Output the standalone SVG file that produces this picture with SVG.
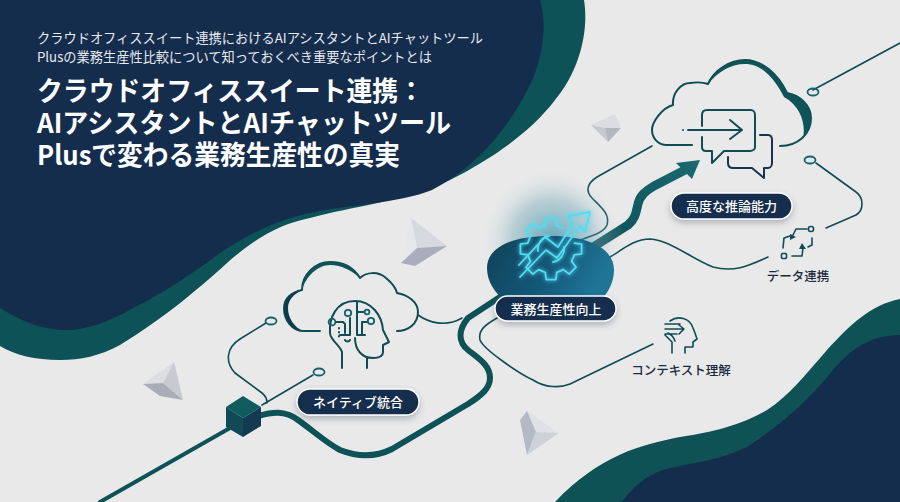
<svg xmlns="http://www.w3.org/2000/svg" width="900" height="502" viewBox="0 0 900 502">
<defs>
<style>
.jp{font-family:"Noto Sans CJK JP","Noto Sans",sans-serif}
.sub{font-size:13.5px;fill:#e6e9ee;font-weight:400}
.ttl{font-size:27px;fill:#fff;font-weight:700}
.pilltext{font-size:13px;fill:#fff;font-weight:500;text-anchor:middle}
.plain{font-size:12.5px;fill:#1a2a40;font-weight:500;text-anchor:middle}
.pill{fill:#152d4d;stroke:#fff;stroke-width:1.4;filter:url(#sh)}
.ln{fill:none;stroke:#0f4c55;stroke-width:1.6;stroke-linecap:round;stroke-linejoin:round}
.ln2{fill:none;stroke:#0f4c55;stroke-width:2;stroke-linecap:round;stroke-linejoin:round}
.nv{fill:none;stroke:#18324f;stroke-width:2;stroke-linecap:round;stroke-linejoin:round}
.rib{fill:none;stroke:#0d5257;stroke-linecap:round;stroke-linejoin:round}
.neon{fill:none;stroke:#52dcf2;stroke-width:1.8;stroke-linecap:round;stroke-linejoin:round}
.ring{fill:none;stroke:#14606c;stroke-width:1.8}
</style>
<filter id="sh" x="-20%" y="-40%" width="140%" height="200%"><feDropShadow dx="0" dy="3" stdDeviation="3" flood-color="#3a4a5a" flood-opacity="0.35"/></filter>
<filter id="glow" x="-30%" y="-30%" width="160%" height="160%"><feGaussianBlur stdDeviation="2" result="b"/><feMerge><feMergeNode in="b"/><feMergeNode in="SourceGraphic"/></feMerge></filter>
<radialGradient id="halo"><stop offset="0" stop-color="#2f8aa5" stop-opacity=".7"/><stop offset=".55" stop-color="#6aa3b3" stop-opacity=".4"/><stop offset="1" stop-color="#e9e9e9" stop-opacity="0"/></radialGradient>
<linearGradient id="blob" x1="0" y1="0" x2="1" y2="0.3"><stop offset="0" stop-color="#0f4258"/><stop offset=".6" stop-color="#14587a"/><stop offset="1" stop-color="#1f7596"/></linearGradient>
<linearGradient id="arrowg" gradientUnits="userSpaceOnUse" x1="590" y1="250" x2="700" y2="160"><stop offset="0" stop-color="#0c4e58"/><stop offset="1" stop-color="#1a6a70"/></linearGradient>
</defs>
<rect width="900" height="502" fill="#e9e9e9"/>
<g id="background">
<path d="M0,0H584C589,30 580,70 555,100C530,133 490,160 450,180C410,200 350,207 310,218C280,224 255,238 227,263C205,283 165,318 120,345C100,356 80,360 60,360C35,360 15,355 0,346Z" fill="#0d5257"/>
<path d="M0,0H540C548,25 542,60 530,85C510,125 480,165 432,190C400,203 345,205 310,213C285,218 250,232 220,253C195,272 160,295 133,308C110,322 85,330 67,330C40,330 20,320 0,308Z" fill="#152d4d"/>
<path d="M900,299C870,305 850,325 827,350C805,375 790,395 767,410C735,428 705,433 680,437C640,445 600,455 555,502H900Z" fill="#0f5256"/>
<path d="M900,335C870,335 850,350 833,370C810,398 790,418 747,447C720,460 695,462 663,470C645,476 632,488 622,502H900Z" fill="#152d4d"/>
</g>
<g id="crystals">
<polygon points="615,114 621,128 605,128 591,125" fill="#dcdde0"/><polygon points="591,125 605,128 608,142" fill="#c5c8ce"/><polygon points="605,128 621,128 608,142" fill="#b3b7c0"/>
<polygon points="411,218 447,246 417,248" fill="#d6d9df"/><polygon points="411,218 417,248 401,263" fill="#e6e7ea"/><polygon points="417,248 447,246 415,266 401,263" fill="#a9adbe"/>
<polygon points="174,362 143,384 163,383" fill="#dcdee2"/><polygon points="174,362 163,383 183,400" fill="#c7cad1"/><polygon points="143,384 163,383 183,400 160,396" fill="#a9adba"/>
<polygon points="527,411 559,433 536,432" fill="#dfe1e5"/><polygon points="527,411 536,432 527,455 520,420" fill="#b4b9c6"/><polygon points="536,432 559,433 527,455" fill="#cdd1d8"/>
</g>
<g id="connectors">
<path class="rib" stroke-width="4" d="M100,502L230,428"/>
<path class="rib" stroke-width="6" d="M258,416C272,412 285,410 298,420C315,432 325,442 340,450C360,458 378,456 392,449L468,404C482,395 490,388 490,378C490,365 478,358 468,350C458,342 458,330 468,318L500,297"/>
<path d="M590,249L628,225C636,218 636,212 638,204C640,195 646,191 654,186L685,170" fill="none" stroke="url(#arrowg)" stroke-width="9" stroke-linejoin="round"/>
<polygon points="700,160 676,163 692,179" fill="url(#arrowg)"/>
<path class="ln" d="M813,90L900,43" stroke="#1a6a78"/>
<ellipse class="ring" cx="813" cy="92" rx="5.5" ry="3.5"/>
<ellipse class="ring" cx="810" cy="160" rx="5.5" ry="3.5"/>
<path class="ln" d="M816,163L856,192C864,198 864,210 856,215L826,228"/>
<path class="ln" d="M652,146L597,177C586,184 586,192 592,198C602,208 610,214 607,225C604,232 595,235 580,240"/>
<path class="ln" d="M610,257C622,250 634,239 650,239C670,240 690,258 713,267C735,273 750,265 768,257"/>
<path class="ln" d="M497,318C485,325 478,330 480,340C484,350 520,374 533,380C545,388 560,388 570,384L653,344"/>
<path class="ln" d="M418,315C428,322 445,328 462,318"/>
<ellipse class="ring" cx="271" cy="321" rx="5.5" ry="3.5"/>
<path class="ln" d="M266,323L240,339C226,348 225,362 235,373L262,393C266,396 267,399 267,403"/>
<ellipse class="ring" cx="319" cy="372" rx="5.5" ry="3.5"/>
<path class="ln" d="M313,375L262,405"/>
</g>
<g id="node-native">
<polygon points="243,396 261,407 243,418 226,407" fill="#0f5c5f"/>
<polygon points="226,407 243,418 243,437 226,427" fill="#0f4a55"/>
<polygon points="243,418 261,407 261,426 243,437" fill="#143a52"/>
<rect class="pill" x="297" y="389" width="122" height="26" rx="13"/>
<text class="jp pilltext" x="358" y="407">ネイティブ統合</text>
</g>
<g id="node-ai-cloud">
<path class="ln2" d="M320,331H303C292,331 284,320 284,308C284,298 292,292 302,290C302,274 316,262 330,262C344,262 354,268 360,278C366,272 378,271 386,278C392,283 396,288 397,293C408,295 418,302 418,312C418,324 408,331 397,331"/>
<path d="M302,290C292,292 284,298 284,308C284,320 292,331 303,331C294,327 288,318 288,308C288,300 294,294 302,290Z" fill="#0f3a4c"/>
<path d="M302,290C302,274 316,262 330,262C344,262 354,268 360,278C352,271 342,265 330,265C318,265 306,276 302,290Z" fill="#0f5257"/>
<path class="ln2" d="M342,368V352C340,345 330,340 330,333C329,318 336,301 355,301C372,301 382,316 383,330L389,342L383,345V352C383,357 378,358 373,358C362,358 355,350 355,338M367,358V368"/>
<path class="ln2" d="M357,302V335M350,318V335H340M357,335H365M362,335V322H367M357,312H364"/>
<circle class="ring" cx="348" cy="313" r="3.2"/><circle class="ring" cx="367" cy="312" r="2.4"/><circle class="ring" cx="371" cy="321" r="3.2"/><circle class="ring" cx="332" cy="322" r="3.4"/>
<path class="ln2" d="M336,322H343L345,324V333M339,328V328.5M339,332V332.5M339,336V336.5M345,340C346,342 349,342 350,340"/>
</g>
<g id="node-productivity">
<circle cx="552" cy="240" r="72" fill="url(#halo)"/>
<path d="M487,268C487,248 510,236 550,236C592,236 614,250 614,270C614,284 606,296 600,300H503C495,292 487,282 487,268Z" fill="url(#blob)"/>
<g filter="url(#glow)">
<g transform="translate(551,249)">
<polyline class="neon" points="23.3,-5.8 30.6,-4.8 30.6,4.8 23.3,5.8 20.6,12.4 25.1,18.2 18.2,25.1 12.4,20.6 5.8,23.3 4.8,30.6 -4.8,30.6 -5.8,23.3 -12.4,20.6 -18.2,25.1 -25.1,18.2 -20.6,12.4 -23.3,5.8 -30.6,4.8 -30.6,-4.8 -23.3,-5.8 -20.6,-12.4 -25.1,-18.2 -18.2,-25.1 -12.4,-20.6 -5.8,-23.3 -4.8,-30.6 4.8,-30.6 5.8,-23.3 12,-21"/>
<path class="neon" d="M-13,2A13,13 0 0 1 -2,-13M13,-2A13,13 0 0 1 2,13"/>
</g>
<path class="neon" d="M519,265L545,237L558,247L573,224L568,216L590,212L585,232L580,226L557,258L546,250L520,277"/>
</g>
<rect class="pill" x="495" y="296" width="121" height="25" rx="12.5"/>
<text class="jp pilltext" x="556" y="313.5">業務生産性向上</text>
</g>
<g id="node-reasoning">
<path class="ln2" d="M692,145H667C657,145 652,137 652,130C652,122 662,108 673,105C672,92 682,83 690,83C697,82 703,82 708,84C714,70 730,60 745,60C762,60 778,74 787,93C800,95 811,106 811,118C811,134 798,146 780,146"/>
<path d="M708,84C714,70 730,60 745,60C762,60 778,74 787,93C800,95 811,106 811,118C811,126 808,133 803,138C806,125 801,106 784,97C776,82 764,64 745,64C730,64 718,72 708,84Z" fill="#0f5257"/>
<path class="ln2" d="M702,126V115C702,112 704,110 707,110H751C753,110 755,112 755,115V147C755,149 753,151 750,151H724L712,163V151H706C703,151 702,149 702,147V137"/>
<path class="ln2" d="M688,130H742M730,120L742,130L730,139"/>
<circle cx="683" cy="130" r="1" fill="#0f4c55"/>
<path class="nv" d="M760,135H768C771,135 772,137 772,140V163C772,166 770,168 768,168H764V178L752,168H733C730,168 728,166 728,163V157"/>
<rect class="pill" x="671" y="193" width="121" height="26" rx="13"/>
<text class="jp pilltext" x="731.5" y="211">高度な推論能力</text>
</g>
<g id="node-data">
<rect class="ln" x="808.5" y="226.500" width="5" height="5" rx="2"/>
<rect class="ln" x="781.500" y="253.500" width="5" height="5" rx="1"/>
<path class="ln" d="M807,229H796L793,235L784,238L783,248M792,256H802L803,248M812,238V245L808,247"/>
<polygon points="790,234 796,237 790,240" fill="#0f4c55"/><polygon points="802,243 806,249 799,249" fill="#0f4c55"/>
<text class="jp plain" x="798" y="281">データ連携</text>
</g>
<g id="node-context">
<path class="ln" d="M670,321C678,315 690,318 693,328L695,333L697,339L693,342V347H685V353M672,353V342L665,335M668,333C672,335 674,338 675,341M665,324H680M665,329H684M679,325L684,329L679,334M665,334H677"/>
<text class="jp plain" x="681" y="375">コンテキスト理解</text>
</g>
<g id="heading">
<text class="jp sub" x="37" y="43" textLength="446" lengthAdjust="spacingAndGlyphs">クラウドオフィススイート連携におけるAIアシスタントとAIチャットツール</text>
<text class="jp sub" x="37" y="62" textLength="395" lengthAdjust="spacingAndGlyphs">Plusの業務生産性比較について知っておくべき重要なポイントとは</text>
<text class="jp ttl" x="37" y="101" textLength="387" lengthAdjust="spacingAndGlyphs">クラウドオフィススイート連携：</text>
<text class="jp ttl" x="37" y="133" textLength="414" lengthAdjust="spacingAndGlyphs">AIアシスタントとAIチャットツール</text>
<text class="jp ttl" x="37" y="165" textLength="363" lengthAdjust="spacingAndGlyphs">Plusで変わる業務生産性の真実</text>
</g>
</svg>
